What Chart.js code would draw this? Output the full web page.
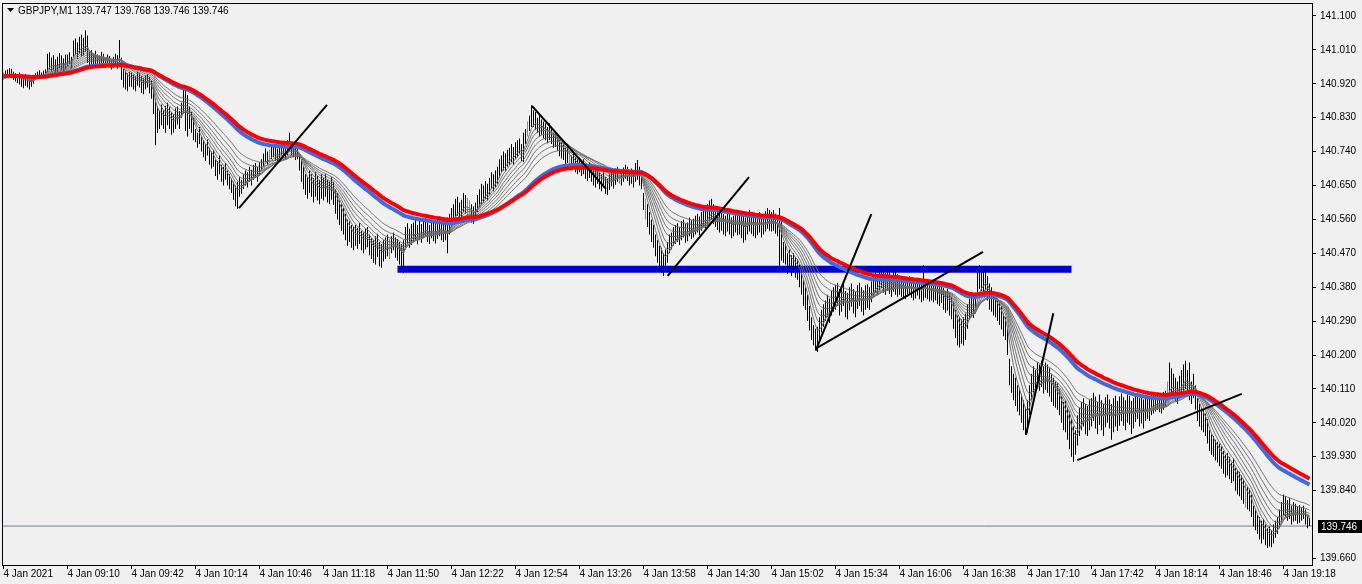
<!DOCTYPE html>
<html>
<head>
<meta charset="utf-8">
<script src="https://cdn.jsdelivr.net/npm/chart.js@4.4.1/dist/chart.umd.min.js"></script>
<style>
  html, body { margin: 0; padding: 0; background: #f0f0f0; }
  canvas { display: block; }
</style>
</head>
<body>
<canvas id="chart" width="1362" height="584"></canvas>
<script>
// GBPJPY M1, one bar per minute, highs and lows
const highs = [
  140.950,140.955,140.958,140.962,140.960,140.952,140.948,140.945,140.950,140.944,140.940,140.946,140.942,140.938,140.936,140.944,
  140.948,140.952,140.956,140.950,140.955,140.958,141.000,141.004,140.990,140.996,140.985,140.992,141.002,140.995,140.988,140.998,
  140.998,141.004,140.992,141.035,141.040,141.030,141.045,141.050,141.042,141.062,141.048,141.005,141.010,141.000,141.008,140.998,
  140.995,141.005,141.000,140.990,140.998,140.994,140.985,140.992,141.000,140.996,141.036,140.990,140.960,140.955,140.948,140.952,
  140.950,140.945,140.940,140.952,140.948,140.940,140.935,140.942,140.946,140.938,140.930,140.910,140.880,140.860,140.850,140.865,
  140.850,140.862,140.870,140.858,140.845,140.840,140.855,140.860,140.848,140.870,140.905,140.915,140.890,140.860,140.845,140.830,
  140.800,140.790,140.805,140.780,140.770,140.760,140.772,140.750,140.740,140.745,140.720,140.715,140.730,140.705,140.700,140.710,
  140.690,140.680,140.668,140.660,140.650,140.660,140.672,140.665,140.680,140.690,140.685,140.700,140.692,140.705,140.710,140.700,
  140.712,140.720,140.735,140.748,140.740,140.745,140.755,140.760,140.752,140.748,140.758,140.765,140.760,140.755,140.770,140.790,
  140.765,140.760,140.752,140.758,140.735,140.720,140.700,140.680,140.672,140.690,140.680,140.670,140.685,140.675,140.665,140.680,
  140.670,140.680,140.665,140.660,140.672,140.660,140.640,140.630,140.610,140.600,140.590,140.575,140.560,140.555,140.545,140.540,
  140.545,140.538,140.550,140.530,140.525,140.535,140.540,140.520,140.510,140.505,140.515,140.522,140.500,140.495,140.505,140.512,
  140.520,140.508,140.515,140.525,140.512,140.508,140.500,140.495,140.505,140.540,140.550,140.535,140.548,140.552,140.560,140.545,
  140.560,140.548,140.555,140.565,140.552,140.545,140.560,140.555,140.548,140.562,140.568,140.555,140.550,140.558,140.565,140.575,
  140.590,140.600,140.615,140.620,140.605,140.612,140.630,140.625,140.618,140.610,140.600,140.595,140.605,140.625,140.640,140.655,
  140.650,140.662,140.655,140.670,140.685,140.680,140.690,140.700,140.720,140.730,140.740,140.735,140.745,140.750,140.760,140.752,
  140.765,140.770,140.775,140.760,140.790,140.800,140.820,140.835,140.863,140.850,140.845,140.830,140.835,140.825,140.820,140.815,
  140.805,140.815,140.800,140.790,140.795,140.785,140.770,140.765,140.760,140.750,140.755,140.740,140.730,140.735,140.725,140.720,
  140.725,140.715,140.720,140.708,140.700,140.712,140.705,140.695,140.690,140.700,140.685,140.680,140.690,140.672,140.668,140.680,
  140.690,140.685,140.695,140.700,140.692,140.688,140.698,140.705,140.700,140.690,140.695,140.685,140.710,140.718,140.700,140.690,
  140.630,140.615,140.600,140.580,140.560,140.545,140.520,140.505,140.490,140.485,140.470,140.480,140.500,140.520,140.525,140.540,
  140.545,140.550,140.540,140.555,140.560,140.548,140.552,140.565,140.558,140.562,140.570,140.575,140.568,140.580,140.590,140.585,
  140.600,140.610,140.615,140.600,140.595,140.590,140.580,140.588,140.575,140.570,140.585,140.578,140.565,140.570,140.580,140.572,
  140.575,140.582,140.570,140.565,140.578,140.585,140.580,140.572,140.568,140.575,140.580,140.570,140.575,140.582,140.590,140.585,
  140.580,140.585,140.575,140.570,140.590,140.560,140.500,140.495,140.470,140.480,140.465,140.470,140.460,140.455,140.440,140.420,
  140.400,140.380,140.360,140.330,140.300,140.280,140.270,140.275,140.300,140.320,140.335,140.345,140.360,140.350,140.370,140.380,
  140.385,140.392,140.375,140.380,140.395,140.370,140.365,140.380,140.390,140.375,140.368,140.385,140.392,140.380,140.372,140.385,
  140.388,140.380,140.395,140.410,140.420,140.415,140.430,140.435,140.425,140.418,140.430,140.420,140.412,140.428,140.422,140.415,
  140.410,140.405,140.398,140.395,140.402,140.410,140.400,140.392,140.398,140.405,140.395,140.388,140.438,140.400,140.395,140.390,
  140.395,140.388,140.392,140.385,140.380,140.390,140.378,140.370,140.375,140.365,140.355,140.340,140.320,140.305,140.300,140.295,
  140.300,140.310,140.335,140.350,140.360,140.352,140.365,140.420,140.438,140.430,140.425,140.435,140.410,140.390,140.380,140.370,
  140.360,140.350,140.340,140.330,140.310,140.300,140.270,140.190,140.170,140.150,140.140,140.120,140.110,140.095,140.080,140.060,
  140.080,140.120,140.150,140.170,140.160,140.180,140.175,140.185,140.170,140.180,140.175,140.165,140.150,140.140,140.130,140.125,
  140.110,140.090,140.075,140.080,140.060,140.050,140.030,140.010,140.000,140.040,140.060,140.075,140.085,140.070,140.065,140.080,
  140.085,140.100,140.090,140.075,140.095,140.080,140.070,140.088,140.095,140.082,140.070,140.085,140.092,140.078,140.090,140.098,
  140.088,140.080,140.095,140.092,140.078,140.086,140.095,140.100,140.085,140.090,140.082,140.095,140.092,140.088,140.100,140.095,
  140.095,140.100,140.098,140.092,140.102,140.105,140.130,140.180,140.165,140.150,140.140,140.130,140.145,140.160,140.175,140.185,
  140.160,140.180,140.130,140.150,140.120,140.085,140.070,140.060,140.055,140.045,140.030,140.000,139.990,139.985,139.975,139.970,
  139.965,139.958,139.945,139.935,139.940,139.930,139.915,139.925,139.900,139.895,139.890,139.880,139.870,139.860,139.850,139.845,
  139.830,139.800,139.790,139.775,139.770,139.760,139.765,139.750,139.740,139.745,139.735,139.750,139.760,139.770,139.790,139.810,
  139.830,139.825,139.815,139.820,139.800,139.810,139.805,139.798,139.802,139.795,139.800,139.790,139.775,139.768
];
const lows = [
  140.930,140.935,140.938,140.940,140.936,140.930,140.926,140.922,140.918,140.912,140.908,140.915,140.910,140.905,140.912,140.920,
  140.934,140.936,140.940,140.935,140.938,140.942,140.950,140.958,140.952,140.956,140.948,140.950,140.962,140.955,140.950,140.958,
  140.966,140.972,140.960,140.990,140.996,140.985,141.000,140.992,140.995,141.005,140.975,140.968,140.972,140.965,140.970,140.962,
  140.968,140.974,140.970,140.962,140.966,140.964,140.958,140.962,140.968,140.960,140.975,140.930,140.910,140.905,140.900,140.912,
  140.912,140.905,140.900,140.915,140.910,140.896,140.892,140.905,140.910,140.895,140.880,140.840,140.757,140.790,140.800,140.810,
  140.800,140.790,140.810,140.800,140.785,140.790,140.800,140.812,140.800,140.830,140.840,140.795,140.780,140.800,140.790,140.770,
  140.765,140.750,140.760,140.740,140.725,140.715,140.730,140.705,140.695,140.700,140.675,140.665,140.680,140.660,140.650,140.665,
  140.650,140.640,140.630,140.612,140.595,140.588,140.620,140.628,140.640,140.650,140.645,140.660,140.650,140.665,140.670,140.660,
  140.675,140.690,140.700,140.712,140.705,140.710,140.720,140.725,140.715,140.712,140.722,140.730,140.725,140.720,140.730,140.740,
  140.730,140.725,140.718,140.720,140.690,140.660,140.640,140.625,140.615,140.630,140.620,140.605,140.620,140.610,140.600,140.615,
  140.610,140.620,140.605,140.600,140.612,140.598,140.575,140.560,140.545,140.530,140.520,140.505,140.490,140.500,140.485,140.478,
  140.490,140.482,140.495,140.478,140.470,140.480,140.486,140.465,140.455,140.445,140.440,140.460,140.436,140.432,140.448,140.455,
  140.462,140.455,140.470,140.478,140.458,140.450,140.440,140.430,140.418,140.480,140.495,140.485,140.492,140.500,140.505,140.494,
  140.505,140.498,140.510,140.515,140.500,140.495,140.510,140.502,140.496,140.508,140.515,140.505,140.500,140.505,140.470,140.520,
  140.540,140.552,140.565,140.570,140.558,140.565,140.580,140.575,140.568,140.560,140.552,140.548,140.560,140.580,140.592,140.600,
  140.605,140.615,140.610,140.625,140.640,140.635,140.645,140.655,140.670,140.685,140.690,140.688,140.700,140.705,140.712,140.705,
  140.720,140.725,140.735,140.715,140.712,140.760,140.780,140.795,140.805,140.805,140.798,140.790,140.780,140.785,140.775,140.770,
  140.762,140.770,140.760,140.750,140.752,140.742,140.728,140.722,140.718,140.705,140.710,140.698,140.690,140.695,140.685,140.680,
  140.685,140.675,140.680,140.668,140.662,140.670,140.660,140.650,140.645,140.655,140.640,140.635,140.645,140.628,140.625,140.638,
  140.648,140.642,140.652,140.660,140.655,140.650,140.660,140.668,140.662,140.650,140.655,140.645,140.660,140.665,140.650,140.640,
  140.585,140.560,140.540,140.520,140.500,140.485,140.462,140.445,140.430,140.418,140.410,140.425,140.445,140.470,140.480,140.490,
  140.495,140.500,140.492,140.505,140.512,140.498,140.502,140.515,140.508,140.512,140.520,140.525,140.518,140.530,140.540,140.535,
  140.545,140.555,140.560,140.548,140.540,140.532,140.525,140.530,140.520,140.515,140.528,140.520,140.510,140.515,140.525,140.518,
  140.520,140.510,140.498,140.505,140.520,140.528,140.522,140.515,140.510,140.518,140.525,140.512,140.520,140.528,140.535,140.530,
  140.528,140.530,140.522,140.515,140.420,140.450,140.445,140.440,140.415,140.425,140.410,140.418,140.405,140.400,140.380,140.360,
  140.330,140.320,140.290,140.265,140.240,140.225,140.215,140.208,140.240,140.260,140.275,140.290,140.300,140.285,140.305,140.315,
  140.320,140.330,140.305,140.315,140.330,140.300,140.295,140.318,140.328,140.310,140.300,140.322,140.330,140.315,140.305,140.320,
  140.325,140.320,140.340,140.355,140.365,140.360,140.372,140.378,140.365,140.360,140.370,140.362,140.355,140.368,140.360,140.355,
  140.360,140.355,140.350,140.348,140.355,140.362,140.352,140.345,140.350,140.358,140.348,140.340,140.345,140.352,140.348,140.342,
  140.345,140.340,140.345,140.335,140.330,140.338,140.320,140.312,140.318,140.305,140.295,140.270,140.245,140.225,140.220,140.230,
  140.225,140.240,140.270,140.295,140.300,140.298,140.310,140.360,140.375,140.370,140.365,140.372,140.345,140.320,140.315,140.305,
  140.300,140.290,140.280,140.268,140.250,140.240,140.200,140.120,140.100,140.080,140.065,140.050,140.040,140.020,140.000,139.988,
  139.995,140.040,140.080,140.100,140.095,140.110,140.105,140.115,140.098,140.108,140.100,140.090,140.075,140.065,140.060,140.055,
  140.040,140.020,140.000,139.995,139.975,139.950,139.930,139.916,139.935,139.960,139.985,140.000,140.010,139.990,139.985,140.000,
  140.010,140.025,140.005,139.990,140.015,140.000,139.985,140.008,140.020,140.005,139.975,139.995,140.010,139.998,140.012,140.025,
  140.012,140.000,140.020,140.015,139.990,140.005,140.022,140.030,140.010,140.018,140.005,140.025,140.030,140.025,140.040,140.045,
  140.050,140.055,140.048,140.045,140.055,140.062,140.080,140.100,140.090,140.085,140.078,140.070,140.085,140.095,140.100,140.110,
  140.090,140.080,140.070,140.085,140.055,140.025,140.010,140.000,139.995,139.985,139.965,139.945,139.935,139.930,139.920,139.915,
  139.905,139.898,139.885,139.875,139.880,139.870,139.860,139.865,139.840,139.830,139.825,139.815,139.805,139.795,139.790,139.785,
  139.770,139.745,139.735,139.725,139.710,139.700,139.710,139.695,139.688,139.692,139.690,139.700,139.715,139.725,139.740,139.755,
  139.775,139.770,139.760,139.765,139.750,139.758,139.760,139.752,139.755,139.760,139.765,139.750,139.740,139.746
];
// bars drawn in green
const greenBars = [0, 133, 193, 232, 233, 262, 283, 308, 321, 582, 621];

const timeLabels = ["4 Jan 2021", "4 Jan 09:10", "4 Jan 09:42", "4 Jan 10:14", "4 Jan 10:46", "4 Jan 11:18",
  "4 Jan 11:50", "4 Jan 12:22", "4 Jan 12:54", "4 Jan 13:26", "4 Jan 13:58", "4 Jan 14:30", "4 Jan 15:02",
  "4 Jan 15:34", "4 Jan 16:06", "4 Jan 16:38", "4 Jan 17:10", "4 Jan 17:42", "4 Jan 18:14", "4 Jan 18:46", "4 Jan 19:18"];
const barsPerLabel = 32;
const priceTicks = [141.100, 141.010, 140.920, 140.830, 140.740, 140.650, 140.560, 140.470, 140.380,
  140.290, 140.200, 140.110, 140.020, 139.930, 139.840, 139.660];

const titleText = "GBPJPY,M1 139.747 139.768 139.746 139.746";
const lastPrice = 139.746;

// moving averages (exponential), periods
const grayPeriods = [5, 8, 11, 15, 19, 24, 30, 37];
const bluePeriod = 66;
const redPeriod = 75;

// hand drawn objects: [bar index, price] pairs
const supportLine = [[197, 140.428], [534, 140.428]];
const trendLines = [
  [[117.75, 140.590], [161.75, 140.864]],
  [[264.25, 140.861], [301.25, 140.641]],
  [[332.1, 140.410], [372.75, 140.672]],
  [[406.1, 140.212], [433.9, 140.574]],
  [[406.75, 140.219], [489.75, 140.474]],
  [[511.25, 139.988], [524.9, 140.311]],
  [[536.9, 139.921], [619.1, 140.097]]
];

const n = Math.min(highs.length, lows.length);
const mids = [];
for (let i = 0; i < n; i++) mids.push((highs[i] + lows[i]) / 2);

function ema(values, period) {
  const k = 2 / (period + 1);
  const out = [];
  let prev = values[0];
  values.forEach((v, i) => {
    prev = i === 0 ? v : prev + k * (v - prev);
    out.push({ x: i, y: prev });
  });
  return out;
}

const xMin = -0.75, xMax = 654.25;
const yMin = 139.6426, yMax = 141.1345;
const font = { family: "'Liberation Sans', Arial, sans-serif", size: 10 };

const barColors = [];
const barData = [];
for (let i = 0; i < n; i++) {
  barData.push({ x: i, y: [lows[i], highs[i]] });
  barColors.push(greenBars.includes(i) ? "#00e600" : "#000000");
}

const datasets = [];
datasets.push({
  type: "line", data: supportLine.map(p => ({ x: p[0], y: p[1] })),
  borderColor: "#0000cd", borderWidth: 7, borderCapStyle: "butt", pointRadius: 0, order: 20
});
datasets.push({
  type: "line", data: [{ x: xMin, y: lastPrice }, { x: xMax, y: lastPrice }],
  borderColor: "#708090", borderWidth: 1, pointRadius: 0, order: 19
});
datasets.push({
  type: "bar", data: barData, backgroundColor: barColors, barThickness: 1,
  borderWidth: 0, inflateAmount: 0, order: 10
});
grayPeriods.forEach(p => {
  datasets.push({
    type: "line", data: ema(mids, p), borderColor: "#707070", borderWidth: 1,
    pointRadius: 0, tension: 0, order: 8
  });
});
datasets.push({
  type: "line", data: ema(mids, bluePeriod), borderColor: "#4169e1", borderWidth: 4,
  pointRadius: 0, tension: 0, order: 6
});
datasets.push({
  type: "line", data: ema(mids, redPeriod), borderColor: "#ff0000", borderWidth: 4,
  pointRadius: 0, tension: 0, order: 5
});
trendLines.forEach(t => {
  datasets.push({
    type: "line", data: t.map(p => ({ x: p[0], y: p[1] })), borderColor: "#000000",
    borderWidth: 2, pointRadius: 0, order: 1
  });
});

// frame, title and current price box
const mtDecor = {
  id: "mtDecor",
  afterDraw(chart) {
    const c = chart.ctx;
    const a = chart.chartArea;
    c.save();
    c.strokeStyle = "#000";
    c.lineWidth = 1;
    c.strokeRect(a.left + 0.5, a.top + 0.5, a.right - a.left, a.bottom - a.top);

    c.fillStyle = "#000";
    c.beginPath();
    c.moveTo(7, 8); c.lineTo(14, 8); c.lineTo(10.5, 12); c.closePath();
    c.fill();
    c.font = "10px 'Liberation Sans', Arial, sans-serif";
    c.textBaseline = "middle";
    c.fillText(titleText, 18, 11);

    const y = Math.round(chart.scales.y.getPixelForValue(lastPrice));
    c.fillStyle = "#000";
    c.fillRect(1318, y - 6, 44, 13);
    c.fillStyle = "#fff";
    c.fillText(lastPrice.toFixed(3), 1321, y + 1);
    c.restore();
  }
};

new Chart(document.getElementById("chart"), {
  type: "bar",
  data: { datasets: datasets },
  plugins: [mtDecor],
  options: {
    responsive: false,
    animation: false,
    events: [],
    layout: { padding: { left: 2, top: 3, right: 0, bottom: 0 } },
    plugins: { legend: { display: false }, tooltip: { enabled: false } },
    scales: {
      x: {
        type: "linear", min: xMin, max: xMax, offset: false,
        border: { display: false },
        grid: { drawOnChartArea: false, drawTicks: true, tickLength: 4, color: "#000", offset: false },
        ticks: {
          align: "start", padding: -1, color: "#000", font: font, maxRotation: 0, autoSkip: false,
          callback: (v, i) => timeLabels[i]
        },
        afterBuildTicks: s => { s.ticks = timeLabels.map((_, i) => ({ value: i * barsPerLabel })); },
        afterFit: s => { s.height = 19; s.paddingLeft = 0; s.paddingRight = 0; }
      },
      y: {
        position: "right", min: yMin, max: yMax,
        border: { display: false },
        grid: { drawOnChartArea: false, drawTicks: true, tickLength: 4, color: "#000" },
        ticks: {
          padding: 4, color: "#000", font: font, autoSkip: false,
          callback: v => v.toFixed(3)
        },
        afterBuildTicks: s => { s.ticks = priceTicks.map(v => ({ value: v })); },
        afterFit: s => { s.width = 50; s.paddingTop = 0; s.paddingBottom = 0; }
      }
    }
  }
});
</script>
</body>
</html>
